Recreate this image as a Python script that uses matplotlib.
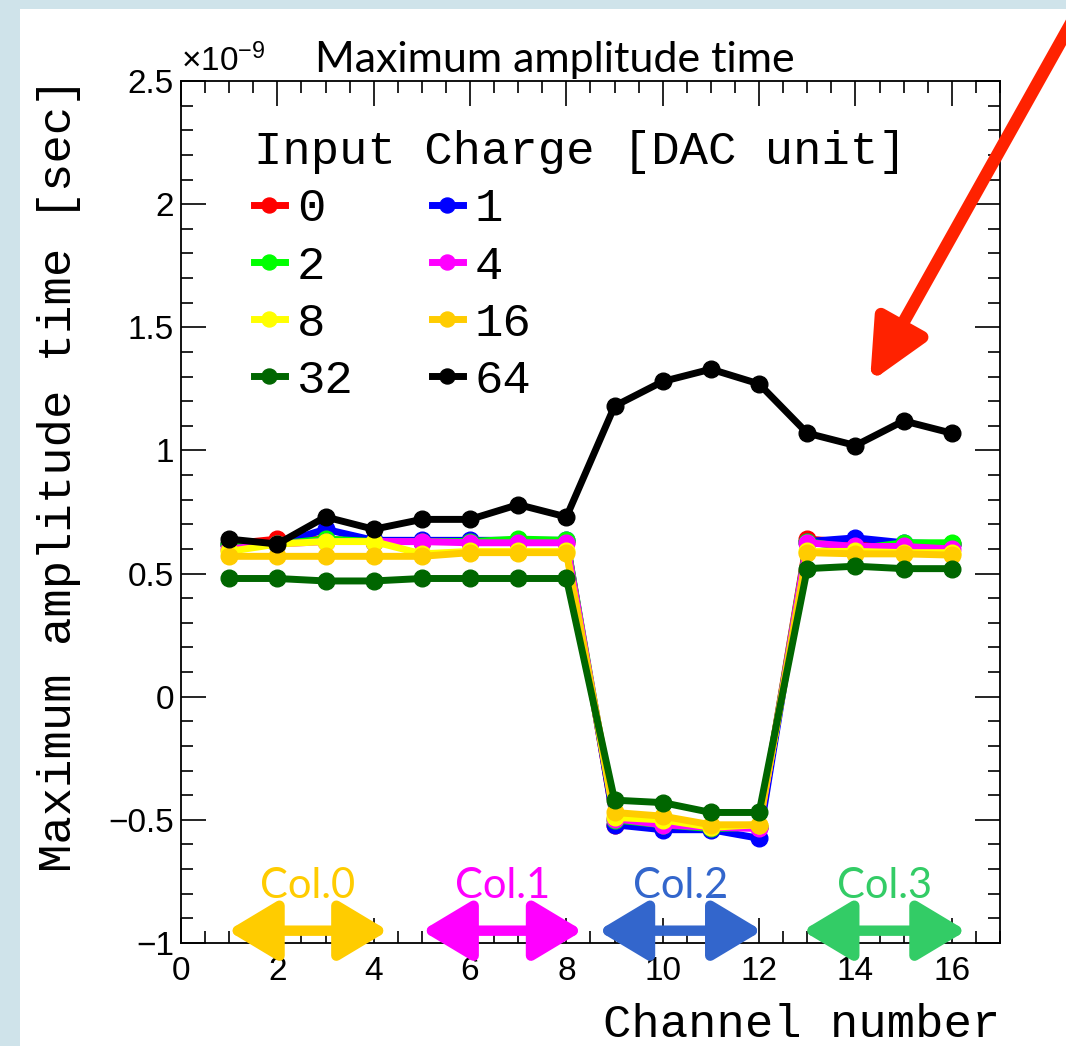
import matplotlib
matplotlib.use("Agg")
import matplotlib.pyplot as plt
from matplotlib.patches import FancyArrowPatch, Rectangle
from matplotlib.ticker import MultipleLocator, FuncFormatter

plt.rcParams['mathtext.fontset'] = 'custom'
plt.rcParams['mathtext.rm'] = 'Liberation Sans'
plt.rcParams['mathtext.it'] = 'Liberation Sans'

# ---------------- data (units of 1e-9 s) ----------------
channels = list(range(1, 17))
charge_labels = ["0", "1", "2", "4", "8", "16", "32", "64"]
q0 = [0.62, 0.64, 0.64, 0.63, 0.63, 0.63, 0.63, 0.63, -0.52, -0.51, -0.53, -0.53, 0.64, 0.625, 0.62, 0.62]
q1 = [0.62, 0.62, 0.68, 0.635, 0.635, 0.635, 0.635, 0.635, -0.52, -0.54, -0.54, -0.575, 0.63, 0.645, 0.625, 0.62]
q2 = [0.62, 0.62, 0.64, 0.63, 0.63, 0.63, 0.64, 0.635, -0.50, -0.52, -0.535, -0.53, 0.63, 0.60, 0.625, 0.625]
q4 = [0.60, 0.62, 0.63, 0.63, 0.63, 0.625, 0.625, 0.625, -0.495, -0.52, -0.53, -0.535, 0.625, 0.61, 0.61, 0.60]
q8 = [0.59, 0.62, 0.63, 0.63, 0.58, 0.59, 0.59, 0.59, -0.49, -0.50, -0.53, -0.52, 0.59, 0.59, 0.585, 0.585]
q16 = [0.57, 0.57, 0.57, 0.57, 0.57, 0.585, 0.585, 0.585, -0.47, -0.485, -0.52, -0.52, 0.585, 0.58, 0.58, 0.575]
q32 = [0.48, 0.48, 0.47, 0.47, 0.48, 0.48, 0.48, 0.48, -0.42, -0.43, -0.47, -0.47, 0.52, 0.53, 0.52, 0.52]
q64 = [0.64, 0.62, 0.73, 0.68, 0.72, 0.72, 0.78, 0.73, 1.18, 1.28, 1.33, 1.27, 1.07, 1.02, 1.12, 1.07]
series = [q0, q1, q2, q4, q8, q16, q32, q64]
series_colors = ["#ff0000", "#0000ff", "#00ff00", "#ff00ff", "#ffff00", "#ffcc00", "#006600", "#000000"]

col_names = ["Col.0", "Col.1", "Col.2", "Col.3"]
col_ranges = [(0.97, 4.3), (5.0, 8.34), (8.66, 12.06), (12.9, 16.3)]
col_colors = ["#ffcc00", "#ff00ff", "#3366cc", "#33cc66"]

# ---------------- figure ----------------
W, H = 1066, 1046
fig = plt.figure(figsize=(W / 100, H / 100), dpi=100)
fig.patch.set_facecolor("#cfe3ea")
fig.patches.append(Rectangle((20 / W, 0), 1, 1 - 9 / H, transform=fig.transFigure,
                             facecolor="white", edgecolor="none", zorder=-10))

ax = fig.add_axes([181 / W, 1 - 943 / H, (1000 - 181) / W, (943 - 81) / H])
ax.set_facecolor("white")

lines = []
for vals, c, lab in zip(series, series_colors, charge_labels):
    ln, = ax.plot(channels, vals, color=c, lw=5, marker="o", ms=12,
                  markeredgecolor=c, markerfacecolor=c, label=lab)
    lines.append(ln)

ax.set_xlim(0, 17)
ax.set_ylim(-1, 2.5)
ax.xaxis.set_major_locator(MultipleLocator(2))
ax.xaxis.set_minor_locator(MultipleLocator(0.5))
ax.yaxis.set_major_locator(MultipleLocator(0.5))
ax.yaxis.set_minor_locator(MultipleLocator(0.1))
ax.yaxis.set_major_formatter(FuncFormatter(lambda v, p: ("%g" % v).replace("-", "\u2212")))
ax.tick_params(which="both", direction="in", top=True, right=True, width=1.2, color="black")
ax.tick_params(which="major", length=18)
ax.tick_params(which="minor", length=8.5)
ax.tick_params(axis="y", which="major", pad=5)
ax.tick_params(axis="x", which="major", pad=9)
for lab in ax.get_xticklabels() + ax.get_yticklabels():
    lab.set_fontfamily("Liberation Sans")
    lab.set_fontsize(24)
for s in ax.spines.values():
    s.set_linewidth(1.3)

mono = dict(family="Liberation Mono", size=34)
ax.set_xlabel("Channel number", fontdict=mono, loc="right")
ax.xaxis.set_label_coords(1.0, -0.095)
ax.xaxis.label.set_va("center")
ax.set_ylabel("Maximum amplitude time [sec]", fontdict=mono, loc="top")
ax.yaxis.set_label_coords(-0.149, 1.004)
ax.yaxis.label.set_va("center")

ax.text(0.457, 1.01, "Maximum amplitude time", transform=ax.transAxes, ha="center",
        va="baseline", fontsize=31, family="Lato")
ax.text(0.0, 1.003, r"$\times10^{-9}$", transform=ax.transAxes, ha="left",
        va="bottom", fontsize=24)

# legend (rows: 0/1, 2/4, 8/16, 32/64)
order = [0, 2, 4, 6, 1, 3, 5, 7]
leg = ax.legend([lines[i] for i in order], [charge_labels[i] for i in order], ncol=2,
                title="Input Charge [DAC unit]", loc="upper left",
                bbox_to_anchor=(0.089, 0.943), frameon=False,
                prop=dict(family="Liberation Mono", size=34),
                title_fontproperties=dict(family="Liberation Mono", size=34),
                handlelength=0.66, handletextpad=0.25, columnspacing=1.65,
                labelspacing=0.28, borderpad=0, borderaxespad=0, alignment="left",
                markerscale=0.9)

# column annotations
for name, (x0, x1), c in zip(col_names, col_ranges, col_colors):
    ax.annotate("", xy=(x1, -0.95), xytext=(x0, -0.95),
                arrowprops=dict(arrowstyle="<|-|>,head_length=1.5,head_width=0.9",
                                mutation_scale=20, color=c, lw=7.5, shrinkA=0, shrinkB=0))
    ax.text((x0 + x1) / 2, -0.767, name, color=c, ha="center", va="center",
            fontsize=30, family="Lato")

# big red arrow
arr = FancyArrowPatch((1074 / W, 1 - 18 / H), (870 / W, 1 - 382 / H),
                      transform=fig.transFigure,
                      arrowstyle="-|>,head_length=1.8,head_width=0.85",
                      mutation_scale=20, color="#ff2200", lw=9,
                      shrinkA=0, shrinkB=0)
fig.patches.append(arr)

fig.savefig("out.png", dpi=100)
